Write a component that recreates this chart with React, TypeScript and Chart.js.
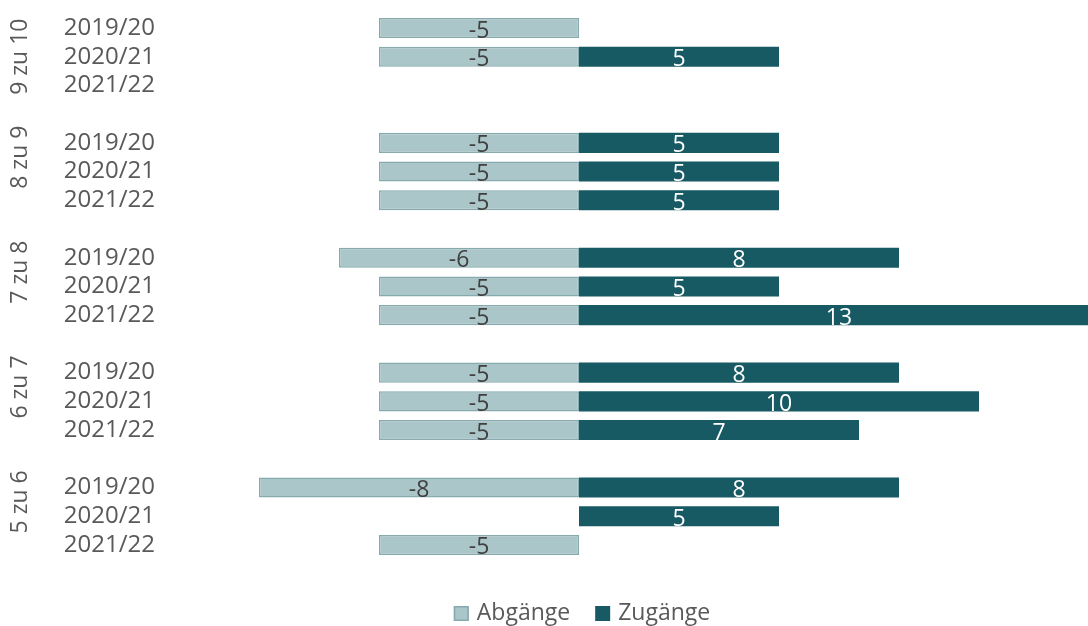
import React, { useEffect, useRef } from "react";
import { Chart, registerables } from "chart.js";

Chart.register(...registerables);

const GROUPS = ["9 zu 10", "8 zu 9", "7 zu 8", "6 zu 7", "5 zu 6"];
const YEARS = ["2019/20", "2020/21", "2021/22"];
// one value per group × year, in group order
const ABGAENGE: (number | null)[] = [-5, -5, null, -5, -5, -5, -6, -5, -5, -5, -5, -5, -8, null, -5];
const ZUGAENGE: (number | null)[] = [null, 5, null, 5, 5, 5, 8, 5, 13, 8, 10, 7, 8, 5, null];
const SERIES = ["Abgänge", "Zugänge"];

const FONT = "'Open Sans', sans-serif";
const TEXT = "#595959";
const LIGHT = "#abc6c9";
const LIGHT_BORDER = "#86aaae";
const DARK = "#175a64";

export default function App() {
  const ref = useRef<HTMLCanvasElement | null>(null);

  useEffect(() => {
    const labels: string[] = [];
    const abg: (number | null)[] = [];
    const zug: (number | null)[] = [];
    const spans: { label: string; start: number; end: number }[] = [];
    GROUPS.forEach((g, gi) => {
      const start = labels.length;
      if (gi > 0) {
        labels.push("");
        abg.push(null);
        zug.push(null);
      }
      YEARS.forEach((y, yi) => {
        labels.push(y);
        abg.push(ABGAENGE[gi * 3 + yi]);
        zug.push(ZUGAENGE[gi * 3 + yi]);
      });
      spans.push({ label: g, start, end: labels.length - 1 });
    });

    const groupPlugin = {
      id: "groupLabels",
      afterDraw(chart: any) {
        const ctx = chart.ctx;
        const y = chart.scales.y;
        ctx.save();
        ctx.font = `23px ${FONT}`;
        ctx.fillStyle = TEXT;
        ctx.textAlign = "center";
        ctx.textBaseline = "middle";
        spans.forEach((s) => {
          const cy = (y.getPixelForValue(s.start) + y.getPixelForValue(s.end)) / 2;
          ctx.save();
          ctx.translate(20, cy);
          ctx.rotate(-Math.PI / 2);
          ctx.fillText(s.label, 0, 0);
          ctx.restore();
        });
        ctx.restore();
      },
    };

    const valuePlugin = {
      id: "valueLabels",
      afterDatasetsDraw(chart: any) {
        const ctx = chart.ctx;
        ctx.save();
        ctx.font = `23px ${FONT}`;
        ctx.textAlign = "center";
        ctx.textBaseline = "middle";
        chart.data.datasets.forEach((ds: any, di: number) => {
          const meta = chart.getDatasetMeta(di);
          ctx.fillStyle = di === 0 ? "#404040" : "#ffffff";
          meta.data.forEach((el: any, i: number) => {
            const v = ds.data[i];
            if (v === null || v === undefined) return;
            const p = el.getProps(["x", "y", "base"], true);
            ctx.fillText(String(v), (p.x + p.base) / 2, p.y + 3);
          });
        });
        ctx.restore();
      },
    };

    const legendPlugin = {
      id: "customLegend",
      afterDraw(chart: any) {
        const ctx = chart.ctx;
        ctx.save();
        ctx.font = `23px ${FONT}`;
        ctx.textBaseline = "middle";
        ctx.textAlign = "left";
        const cy = 613.5;
        const box = 15;
        const gapBox = 8;
        const gapItem = 25;
        const widths = SERIES.map((s) => ctx.measureText(s).width);
        const total = widths.reduce((a, w) => a + box + gapBox + w, 0) + gapItem * (SERIES.length - 1);
        let x = 582 - total / 2;
        SERIES.forEach((s, i) => {
          ctx.fillStyle = i === 0 ? LIGHT : DARK;
          ctx.fillRect(x, cy - box / 2, box, box);
          if (i === 0) {
            ctx.strokeStyle = LIGHT_BORDER;
            ctx.lineWidth = 1.5;
            ctx.strokeRect(x + 0.75, cy - box / 2 + 0.75, box - 1.5, box - 1.5);
          }
          x += box + gapBox;
          ctx.fillStyle = TEXT;
          ctx.fillText(s, x, cy);
          x += widths[i] + gapItem;
        });
        ctx.restore();
      },
    };

    const chart = new Chart(ref.current as HTMLCanvasElement, {
      type: "bar",
      data: {
        labels,
        datasets: [
          {
            label: SERIES[0],
            data: abg,
            backgroundColor: LIGHT,
            borderColor: LIGHT_BORDER,
            borderWidth: 1.5,
            borderSkipped: false,
          },
          {
            label: SERIES[1],
            data: zug,
            backgroundColor: DARK,
            borderWidth: 0,
          },
        ],
      } as any,
      options: {
        indexAxis: "y",
        animation: false,
        responsive: false,
        maintainAspectRatio: false,
        layout: { padding: { top: 13.6, bottom: 66.7, left: 0, right: 0 } },
        datasets: { bar: { categoryPercentage: 1, barPercentage: 0.7 } },
        plugins: { legend: { display: false }, tooltip: { enabled: false } },
        scales: {
          x: {
            stacked: true,
            min: -10,
            max: 12.725,
            display: false,
          },
          y: {
            stacked: true,
            grid: { display: false, drawTicks: false },
            border: { display: false },
            ticks: {
              color: TEXT,
              font: { family: FONT, size: 24 },
              padding: 24,
              autoSkip: false,
            },
            afterFit(scale: any) {
              scale.width = 179;
              scale.paddingTop = 0;
              scale.paddingBottom = 0;
            },
          },
        },
      } as any,
      plugins: [valuePlugin, groupPlugin, legendPlugin],
    });
    return () => chart.destroy();
  }, []);

  return (
    <div style={{ position: "fixed", left: 0, top: 0, width: 1088, height: 626, background: "#fff" }}>
      <canvas ref={ref} width={1088} height={626} style={{ display: "block", width: 1088, height: 626 }} />
    </div>
  );
}
